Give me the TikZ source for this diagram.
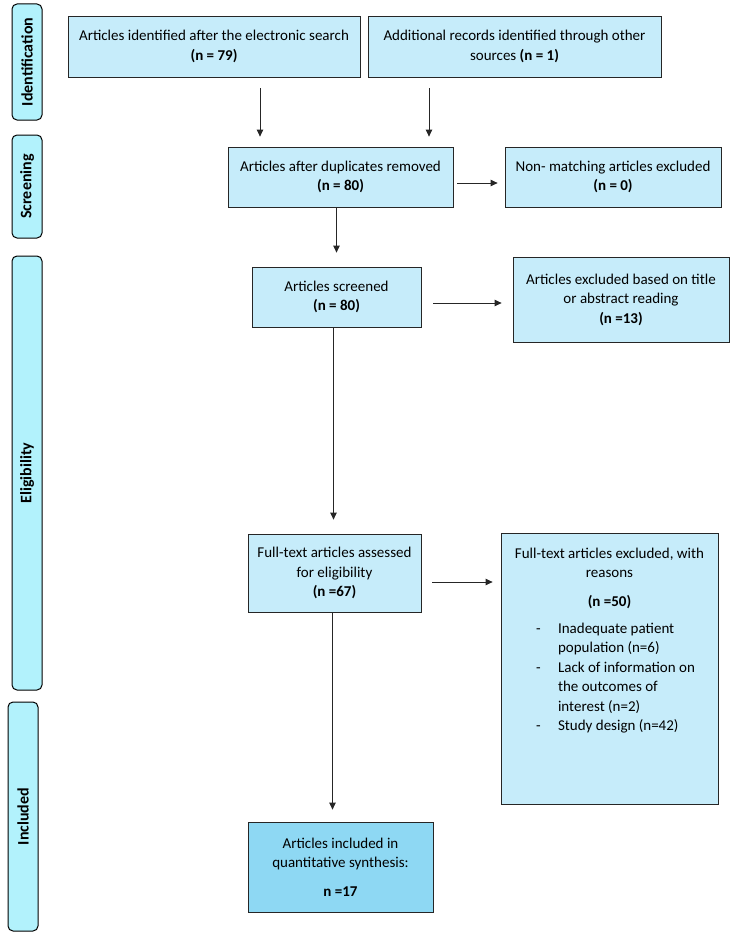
\documentclass[tikz,border=0pt]{standalone}
\usepackage{fontspec}
\setmainfont{Carlito}
\usepackage{xcolor}
\usetikzlibrary{arrows.meta, positioning, calc}

\definecolor{boxblue}{RGB}{198,236,250}
\definecolor{phasecyan}{RGB}{178,242,252}
\definecolor{inclblue}{RGB}{142,216,243}

\begin{document}
\begin{tikzpicture}[
  x=1pt, y=-1pt,
  box/.style={draw=black!85, line width=0.8pt, fill=boxblue,
              inner sep=2pt, align=center,
              font=\fontsize{15}{19.5}\selectfont},
  inclbox/.style={box, fill=inclblue},
  phase/.style={draw=black, line width=1pt, fill=phasecyan,
                rounded corners=5pt, rotate=90, inner sep=0pt,
                minimum height=30pt,
                font=\fontsize{16}{19}\selectfont\bfseries},
  arrow/.style={-{Triangle[length=7pt,width=6.5pt]}, line width=0.8pt,
                draw=black!85}
]
\useasboundingbox (0,0) rectangle (737,934);

% phase labels
\node[phase, minimum width=116pt] (ident)  at (27,62)    {Identification};
\node[phase, minimum width=103pt] (screen) at (27,186.5) {Screening};
\node[phase, minimum width=434pt] (elig)   at (27,473)   {Eligibility};
\node[phase, minimum width=229pt] (incl)   at (23,816.5) {Included};

% flow boxes
\node[box, minimum width=292pt, minimum height=61pt] (search) at (214,46.5)
  {Articles identified after the electronic search\\ \textbf{(n = 79)}};
\node[box, minimum width=293pt, minimum height=61pt] (other) at (514.5,46.5)
  {Additional records identified through other\\ sources \textbf{(n = 1)}};
\node[box, minimum width=225pt, minimum height=60pt] (dup) at (340.5,177)
  {Articles after duplicates removed\\ \textbf{(n = 80)}};
\node[box, minimum width=216pt, minimum height=60pt] (nonmatch) at (613,177)
  {Non- matching articles excluded\\ \textbf{(n = 0)}};
\node[box, minimum width=169pt, minimum height=60pt] (screened) at (336.5,297)
  {Articles screened\\ \textbf{(n = 80)}};
\node[box, minimum width=216pt, minimum height=85pt] (titleexcl) at (621,299.5)
  {Articles excluded based on title\\ or abstract reading\\ \textbf{(n =13)}};
\node[box, minimum width=173pt, minimum height=78pt] (fulltext) at (334.5,573)
  {Full-text articles assessed\\ for eligibility\\ \textbf{(n =67)}};
\node[box, inner sep=6pt] (ftexcl) at (609.5,668.5)
  {\parbox[c][259pt][t]{205pt}{\centering\vspace*{9pt}
   Full-text articles excluded, with\\ reasons\\[9pt]
   \textbf{(n =50)}\\[10pt]
   \hspace*{12pt}\begin{tabular}{@{}p{22pt}@{}l@{}}
   - & Inadequate patient\\
     & population (n=6)\\
   - & Lack of information on\\
     & the outcomes of\\
     & interest (n=2)\\
   - & Study design (n=42)
   \end{tabular}}};
\node[inclbox, minimum width=185pt, minimum height=90pt] (synth) at (340.5,867)
  {Articles included in\\ quantitative synthesis:\\[9pt] \textbf{n =17}};

% connectors
\draw[arrow, shorten <=11pt, shorten >=10pt]
  ([xshift=46pt]search.south) -- ([xshift=46pt]search.south |- dup.north);
\draw[arrow, shorten <=11pt, shorten >=10pt]
  ([xshift=-85.5pt]other.south) -- ([xshift=-85.5pt]other.south |- dup.north);
\draw[arrow, shorten <=4pt, shorten >=7pt]
  ([yshift=-6pt]dup.east) -- ([yshift=-6pt]dup.east -| nonmatch.west);
\draw[arrow, shorten >=14pt]
  (screened.north |- dup.south) -- (screened.north);
\draw[arrow, shorten <=12pt, shorten >=11pt]
  ([yshift=-6pt]screened.east) -- ([yshift=-6pt]screened.east -| titleexcl.west);
\draw[arrow, shorten >=14pt]
  ([xshift=-3pt]screened.south) -- ([xshift=-3pt]screened.south |- fulltext.north);
\draw[arrow, shorten <=11pt, shorten >=8pt]
  ([yshift=-9pt]fulltext.east) -- ([yshift=-9pt]fulltext.east -| ftexcl.west);
\draw[arrow, shorten >=12pt]
  ([xshift=-2pt]fulltext.south) -- ([xshift=-2pt]fulltext.south |- synth.north);
\end{tikzpicture}
\end{document}
